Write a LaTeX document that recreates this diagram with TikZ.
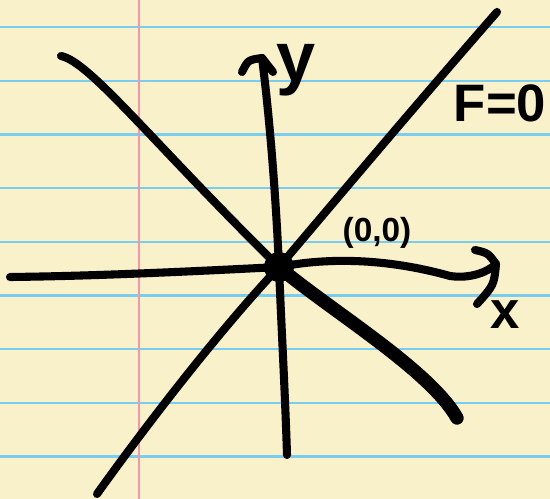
\documentclass[tikz,border=0pt]{standalone}
\usepackage{fontspec}
\setmainfont{Liberation Sans}
\definecolor{paper}{RGB}{249,241,201}
\definecolor{ruling}{RGB}{120,205,240}
\definecolor{margin}{RGB}{245,150,170}
\begin{document}
\begin{tikzpicture}[
    x=0.02cm, y=-0.02cm,
    pen/.style={
        line width=4.6pt,
        line cap=round,
        line join=round
    },
    heavypen/.style={pen, line width=7.6pt},
    handtext/.style={inner sep=0pt, font=\fontsize{#1}{#1}\selectfont\bfseries},
    dot/.style={
        circle,
        fill=black,
        minimum size=17pt,
        inner sep=0pt
    }
]
\def\rulegap{53.7}

% Ruled notepaper
\fill[paper] (0,0) rectangle (550,499);
\useasboundingbox (0,0) rectangle (550,499);
\foreach \k in {0,...,8}{
    \draw[ruling, line width=1.3pt] (0,{27+\rulegap*\k}) -- (550,{27+\rulegap*\k});
}
\draw[margin, line width=1.2pt] (139,0) -- (139,499);

% Stroke ends
\coordinate (O) at (279,267);
\coordinate (xleft) at (10,277);
\coordinate (xtip) at (496,264);
\coordinate (ybot) at (287,455);
\coordinate (ytip) at (262,58);
\coordinate (riseL) at (97,494);
\coordinate (riseR) at (497,12);
\coordinate (fallL) at (61,56);
\coordinate (fallR) at (457,418);

% Axes with open hand-drawn heads
\draw[pen] (xleft) .. controls (100,276) and (200,271) .. (O)
    .. controls (340,255) and (400,262) .. (450,276)
    .. controls (470,279) and (488,272) .. (xtip);
\draw[pen] (475,250) .. controls (488,253) .. (xtip)
    .. controls (494,285) .. (477,304);
\draw[pen] (ybot) .. controls (285,390) and (281,320) .. (O)
    .. controls (276,200) and (270,120) .. (ytip);
\draw[pen] (242,72) .. controls (248,60) .. (ytip) -- (273,72);

% Level set F=0 through the origin
\draw[pen] (riseL) .. controls (150,420) and (220,330) .. (O)
    .. controls (340,195) and (420,100) .. (riseR);
\draw[pen] (fallL) .. controls (90,62) and (150,140) .. (O);
\draw[heavypen] (O) .. controls (330,310) and (430,370) .. (fallR);
\node[dot] (origin) at (O) {};

% Labels
\node[handtext=40] (ylabel) at (296,70) {y};
\node[handtext=30] (xlabel) at (505,315) {x};
\node[handtext=30] (flabel) at (500,103) {F=0};
\node[handtext=19] (olabel) at (377,233) {(0,0)};
\end{tikzpicture}
\end{document}
